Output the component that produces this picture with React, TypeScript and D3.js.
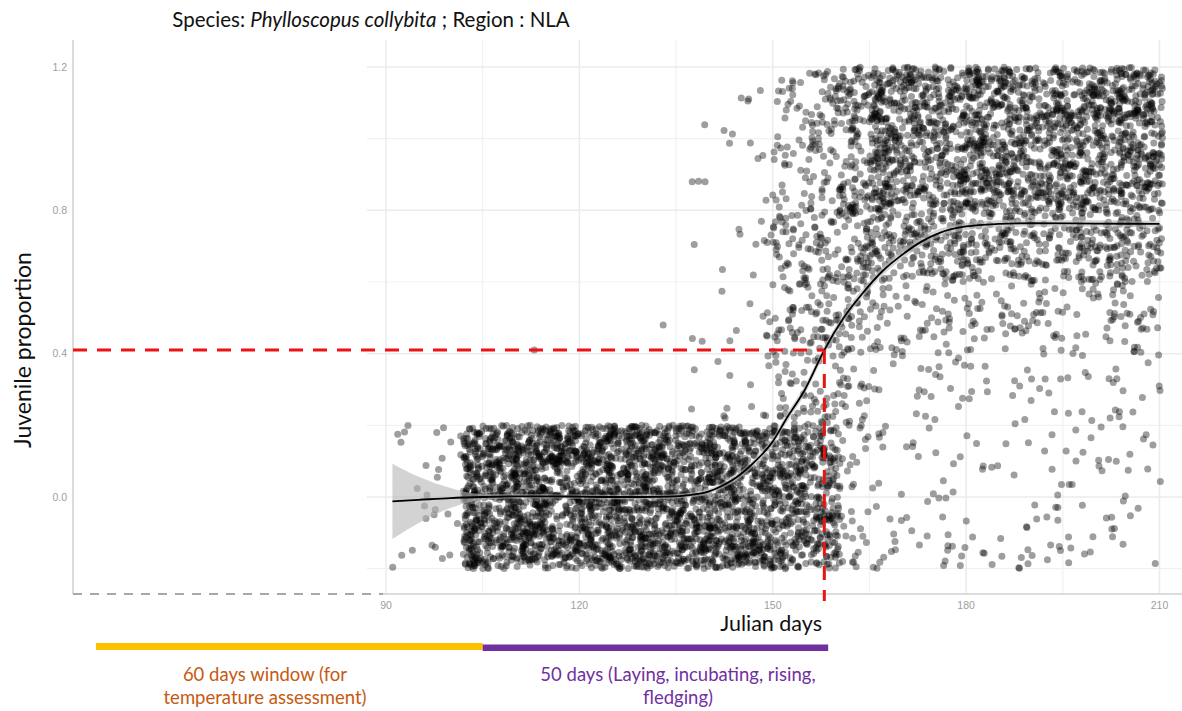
import { useMemo } from "react";
import * as d3 from "d3";

const W = 1182;
const H = 711;

// fitted smooth
const curveDays = [91, 95, 100, 105, 110, 115, 120, 125, 130, 134, 137, 140, 142, 144, 147, 150, 152, 155, 158, 161, 164, 167, 170, 173, 176, 180, 185, 190, 200, 210];
const curveFit = [-0.012, -0.008, -0.003, 0, 0.002, 0.002, 0.001, 0, 0, 0.001, 0.005, 0.015, 0.03, 0.05, 0.095, 0.155, 0.215, 0.3, 0.41, 0.5, 0.57, 0.63, 0.675, 0.712, 0.738, 0.755, 0.762, 0.764, 0.763, 0.762];
const curveSe = [0.105, 0.065, 0.028, 0.008, 0.006, 0.006, 0.006, 0.006, 0.006, 0.006, 0.006, 0.007, 0.008, 0.009, 0.01, 0.011, 0.012, 0.012, 0.012, 0.012, 0.012, 0.012, 0.012, 0.012, 0.011, 0.01, 0.01, 0.009, 0.009, 0.009];

const binStart = [91, 102, 110, 120, 130, 137, 142, 146, 150, 154, 158, 160.5, 165, 175, 190];
const binEnd = [102, 110, 120, 130, 137, 142, 146, 150, 154, 158, 160.5, 165, 175, 190, 210.5];
const bandLow = [-0.2, 0.2, 0.4, 0.6, 0.8];
const bandHigh = [0.2, 0.4, 0.6, 0.8, 1.2];
const countsBandA = [28, 480, 600, 600, 400, 275, 210, 200, 180, 160, 90, 30, 30, 40, 55]; // -0.2..0.2
const countsBandB = [0, 0, 0, 0, 0, 3, 4, 6, 20, 22, 14, 20, 14, 22, 30]; // 0.2..0.4
const countsBandC = [0, 0, 0, 0, 0, 2, 3, 6, 25, 30, 20, 35, 42, 55, 75]; // 0.4..0.6
const countsBandD = [0, 0, 0, 0, 0, 1, 3, 6, 28, 32, 22, 50, 120, 170, 220]; // 0.6..0.8
const countsBandE = [0, 0, 0, 0, 0, 2, 4, 8, 30, 50, 38, 110, 400, 600, 820]; // 0.8..1.2
const outlierDays = [113, 133, 137.5, 139.5];
const outlierValues = [0.41, 0.48, 0.88, 0.88];

const thresholdDay = 158;
const thresholdValue = 0.41;

const windowStart = [45, 105];
const windowEnd = [105, 158.6];

const yMajor = [0, 0.4, 0.8, 1.2];
const yMinor = [-0.2, 0.2, 0.6, 1.0];
const xMajor = [90, 120, 150, 180, 210];
const xMinor = [105, 135, 165, 195];

const tickFont = "'Liberation Sans', Arial, sans-serif";
const textFont = "Lato, 'Open Sans', sans-serif";

export default function App() {
  const x = d3.scaleLinear().domain([90, 210]).range([386, 1159.5]);
  const y = d3.scaleLinear().domain([0, 1.2]).range([497, 67]);

  const left = 367;
  const right = W;
  const top = 40;
  const bottom = 594;

  const points = useMemo(() => {
    // seeded jitter, like geom_jitter
    const rnd = d3.randomLcg(0.2718);
    const out: { d: number; v: number }[] = [];
    const allCounts = [countsBandA, countsBandB, countsBandC, countsBandD, countsBandE];
    binStart.forEach((s, i) => {
      const e = binEnd[i];
      allCounts.forEach((counts, j) => {
        for (let c = 0; c < counts[i]; c++) {
          out.push({ d: s + rnd() * (e - s), v: bandLow[j] + rnd() * (bandHigh[j] - bandLow[j]) });
        }
      });
    });
    outlierDays.forEach((d, i) => out.push({ d, v: outlierValues[i] }));
    return out;
  }, []);

  const line = d3
    .line<number>()
    .x((_, i) => x(curveDays[i]))
    .y((d) => y(d))
    .curve(d3.curveMonotoneX);

  const ribbon = d3
    .area<number>()
    .x((_, i) => x(curveDays[i]))
    .y0((d, i) => y(d - curveSe[i]))
    .y1((d, i) => y(d + curveSe[i]))
    .curve(d3.curveMonotoneX);

  return (
    <svg width={W} height={H} style={{ position: "absolute", left: 0, top: 0, display: "block", background: "#fff" }}>
      {/* grid */}
      <g>
        {yMinor.map((t) => (
          <line key={"ym" + t} x1={left} x2={right} y1={y(t)} y2={y(t)} stroke="#f1f1f1" strokeWidth={1.2} />
        ))}
        {xMinor.map((t) => (
          <line key={"xm" + t} x1={x(t)} x2={x(t)} y1={top} y2={bottom} stroke="#f1f1f1" strokeWidth={1.2} />
        ))}
        {yMajor.map((t) => (
          <line key={"yM" + t} x1={left} x2={right} y1={y(t)} y2={y(t)} stroke="#ebebeb" strokeWidth={1.5} />
        ))}
        {xMajor.map((t) => (
          <line key={"xM" + t} x1={x(t)} x2={x(t)} y1={top} y2={bottom} stroke="#ebebeb" strokeWidth={1.5} />
        ))}
      </g>

      {/* points */}
      <g fill="#000" fillOpacity={0.38}>
        {points.map((p, i) => (
          <circle key={i} cx={x(p.d)} cy={y(p.v)} r={3.5} />
        ))}
      </g>

      {/* smooth */}
      <path d={ribbon(curveFit) || ""} fill="#b5b5b5" fillOpacity={0.6} />
      <path d={line(curveFit) || ""} fill="none" stroke="#000" strokeWidth={1.8} />

      {/* axes */}
      <line x1={73} x2={73} y1={top} y2={bottom} stroke="#d0d0d0" strokeWidth={1.5} />
      <line x1={383} x2={right} y1={bottom} y2={bottom} stroke="#d0d0d0" strokeWidth={1.5} />
      <line x1={73} x2={383} y1={bottom} y2={bottom} stroke="#a8a8a8" strokeWidth={2} strokeDasharray="9 8" />

      {yMajor.map((t) => (
        <text key={"yl" + t} x={67} y={y(t)} dy="0.35em" textAnchor="end" fontSize={10.5} fill="#9e9e9e" fontFamily={tickFont}>
          {t.toFixed(1)}
        </text>
      ))}
      {xMajor.map((t) => (
        <text key={"xl" + t} x={x(t)} y={605} dy="0.35em" textAnchor="middle" fontSize={10.5} fill="#9e9e9e" fontFamily={tickFont}>
          {t}
        </text>
      ))}

      {/* threshold */}
      <g stroke="#ee1111" strokeWidth={3} strokeDasharray="14 10" fill="none">
        <line x1={73} x2={x(thresholdDay)} y1={y(thresholdValue)} y2={y(thresholdValue)} />
        <line x1={x(thresholdDay)} x2={x(thresholdDay)} y1={y(thresholdValue)} y2={601} />
      </g>

      {/* title & labels */}
      <text x={371} y={27} textAnchor="middle" fontSize={20.5} fontFamily={textFont} fill="#111">
        Species:{" "}
        <tspan fontStyle="italic">Phylloscopus collybita</tspan> ; Region : NLA
      </text>
      <text transform="translate(31,350) rotate(-90)" textAnchor="middle" fontSize={23} fontFamily={textFont} fill="#111">
        Juvenile proportion
      </text>
      <text x={822} y={631} textAnchor="end" fontSize={21.5} fontFamily={textFont} fill="#111">
        Julian days
      </text>

      {/* windows */}
      <rect x={x(windowStart[0])} y={643} width={x(windowEnd[0]) - x(windowStart[0])} height={7} fill="#FFC000" />
      <rect x={x(windowStart[1])} y={644.5} width={x(windowEnd[1]) - x(windowStart[1])} height={6.5} fill="#7030A0" />

      <g fontSize={18.5} fontFamily={textFont} textAnchor="middle">
        <text x={265} y={681} fill="#C55A11">60 days window (for</text>
        <text x={265} y={704} fill="#C55A11">temperature assessment)</text>
        <text x={678} y={681} fill="#7030A0">50 days (Laying, incubating, rising,</text>
        <text x={678} y={704} fill="#7030A0">fledging)</text>
      </g>
    </svg>
  );
}
